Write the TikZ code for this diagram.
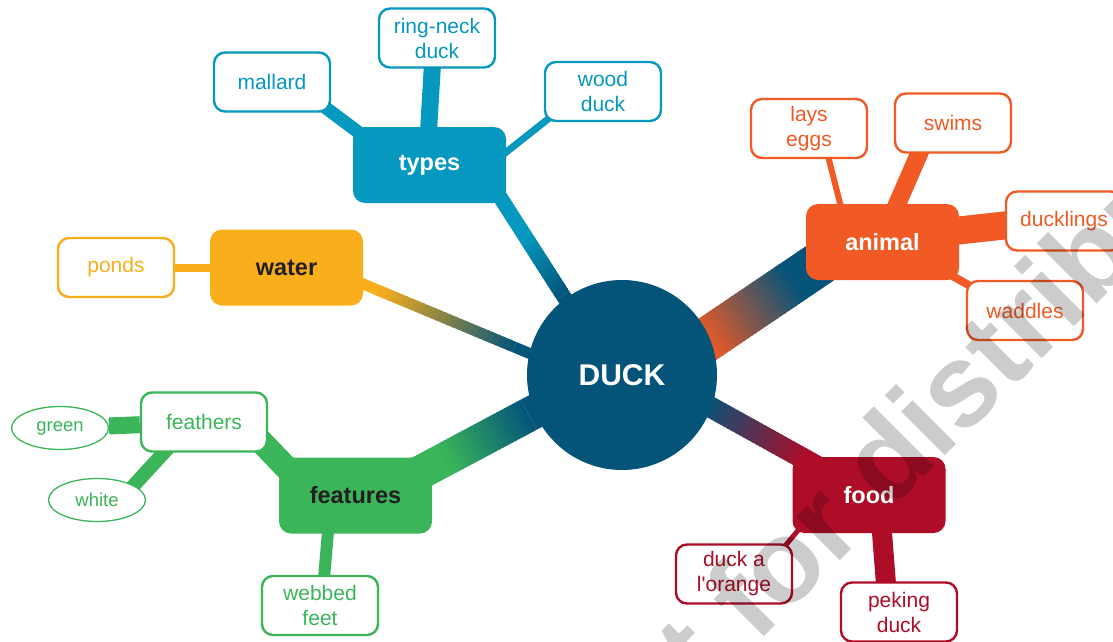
\documentclass[tikz,border=0pt]{standalone}
\usepackage{fontspec}
\setmainfont{Liberation Sans}
\usetikzlibrary{calc, shapes.geometric, backgrounds}

\definecolor{duckblue}{RGB}{4,84,122}
\definecolor{typecyan}{RGB}{6,152,190}
\definecolor{wateryellow}{RGB}{249,174,28}
\definecolor{featgreen}{RGB}{58,181,90}
\definecolor{animalorange}{RGB}{241,90,36}
\definecolor{foodred}{RGB}{174,13,40}
\definecolor{ink}{RGB}{35,31,32}

% thick limb from the hub that fades from one colour into another
% #1,#2 ends, #3 width, #4 colour at #1, #5 colour at #2, #6--#7 blend zone
\newcommand{\blendlink}[7]{%
	\draw[line width=#3, #4] (#1) -- ($(#1)!#6!(#2)$);
	\draw[line width=#3, #5] ($(#1)!#7!(#2)$) -- ($(#1)!0.92!(#2)$);
	\foreach \k in {0,...,24}{
		\pgfmathsetmacro\ta{#6+(#7-#6)*\k/25}
		\pgfmathsetmacro\tb{#6+(#7-#6)*(\k+1.4)/25}
		\pgfmathsetmacro\mix{100*(\k+0.5)/25}
		\draw[line width=#3, color=#5!\mix!#4] ($(#1)!\ta!(#2)$) -- ($(#1)!\tb!(#2)$);
	}
}

\begin{document}
\begin{tikzpicture}[x=1pt, y=-1pt,
		hub/.style={circle, fill=duckblue, text=white, minimum size=190pt, inner sep=0pt,
			font=\bfseries\fontsize{30}{30}\selectfont},
		topic/.style={rectangle, rounded corners=12pt, fill=#1, minimum width=153pt,
			minimum height=76pt, font=\bfseries\fontsize{23.5}{28}\selectfont},
		leaf/.style={rectangle, rounded corners=11pt, draw=#1, text=#1, fill=white,
			line width=2.4pt, minimum width=116pt, minimum height=59pt, inner sep=0pt,
			align=center, font=\fontsize{21}{25}\selectfont},
		tag/.style={ellipse, draw=#1, text=#1, fill=white, line width=1.3pt,
			minimum width=97pt, minimum height=43pt, inner sep=0pt,
			font=\fontsize{18.5}{22}\selectfont},
		twig/.style={line width=#1}]
	\useasboundingbox (0,0) rectangle (1113,642);

	%% Nodes
	\node (duck) at (622,375) [hub] {DUCK};

	% types
	\begin{scope}
		\node (types) at (429.5,165) [topic=typecyan, text=white] {types};
		\node (mallard) at (272,82) [leaf=typecyan] {mallard};
		\node (ringneck) at (437,38) [leaf=typecyan] {ring-neck\\duck};
		\node (woodduck) at (603,91.5) [leaf=typecyan] {wood\\duck};
	\end{scope}

	% water
	\begin{scope}
		\node (water) at (286.5,267.5) [topic=wateryellow, text=ink] {water};
		\node (ponds) at (116,267.5) [leaf=wateryellow] {ponds};
	\end{scope}

	% features
	\begin{scope}
		\node (features) at (355.5,495.5) [topic=featgreen, text=ink] {features};
		\node (feathers) at (204,422) [leaf=featgreen, minimum width=126pt] {feathers};
		\node (green) at (60,428) [tag=featgreen] {green};
		\node (white) at (97,500) [tag=featgreen] {white};
		\node (webbed) at (320,605.5) [leaf=featgreen] {webbed\\feet};
	\end{scope}

	% animal
	\begin{scope}
		\node (animal) at (882.5,242) [topic=animalorange, text=white] {animal};
		\node (layseggs) at (809,128.5) [leaf=animalorange] {lays\\eggs};
		\node (swims) at (953,123) [leaf=animalorange] {swims};
		\node (ducklings) at (1064,221) [leaf=animalorange] {ducklings};
		\node (waddles) at (1025,310.5) [leaf=animalorange] {waddles};
	\end{scope}

	% food
	\begin{scope}
		\node (food) at (869,495) [topic=foodred, text=white] {food};
		\node (orange) at (734,574) [leaf=foodred] {duck a\\l\textquotesingle orange};
		\node (peking) at (899,612) [leaf=foodred] {peking\\duck};
	\end{scope}

	%% Edges
	\begin{scope}[on background layer]
		\coordinate (types-root) at ([xshift=-8pt]duck.center);
		\coordinate (types-tip) at ([xshift=50pt]types.center);
		\coordinate (water-root) at ([yshift=-17pt]duck.center);
		\coordinate (water-tip) at ([yshift=15.5pt]water.center);
		\coordinate (features-root) at ([yshift=10pt]duck.center);
		\coordinate (features-tip) at ([yshift=-11.5pt]features.center);
		\coordinate (animal-root) at ([yshift=-22pt]duck.center);
		\coordinate (animal-tip) at ([yshift=21pt]animal.center);
		\coordinate (food-root) at ([yshift=17pt]duck.center);

		\blendlink{types-root}{types-tip}{15pt}{duckblue}{typecyan}{0.38}{0.66}
		\blendlink{water-root}{water-tip}{11pt}{duckblue}{wateryellow}{0.32}{0.72}
		\blendlink{features-root}{features-tip}{34pt}{duckblue}{featgreen}{0.35}{0.66}
		\blendlink{animal-root}{animal-tip}{44pt}{animalorange}{duckblue}{0.31}{0.66}
		\blendlink{food-root}{food}{21pt}{duckblue}{foodred}{0.33}{0.74}

		\draw[twig=13pt, typecyan] ($(mallard)+(42,17)$) -- ($(types)+(-59.5,-24)$);
		\draw[twig=17pt, typecyan] ($(ringneck)+(-4,17)$) -- ($(types)+(-1.5,-25)$);
		\draw[twig=7pt, typecyan] ($(types)+(65.5,-4)$) -- ($(woodduck)+(-41,16.5)$);

		\draw[twig=8pt, wateryellow] (ponds) -- (water);

		\draw[twig=24pt, featgreen] ($(feathers)+(46,8)$) -- ($(features)+(-55.5,-13.5)$);
		\draw[twig=17pt, featgreen] (green) -- (feathers);
		\draw[twig=14pt, featgreen] ($(white)+(28,-5)$) -- ($(feathers)+(-24,13)$);
		\draw[twig=12pt, featgreen] ($(features)+(-26.5,24.5)$) -- ($(webbed)+(3,-15.5)$);

		\draw[twig=6pt, animalorange] ($(layseggs)+(17,19.5)$) -- ($(animal)+(-39.5,-27)$);
		\draw[twig=18pt, animalorange] ($(animal)+(9.5,-26)$) -- ($(swims)+(-28,17)$);
		\draw[twig=28pt, animalorange] ($(animal)+(62.5,-10)$) -- ($(ducklings)+(-46,3)$);
		\draw[twig=8pt, animalorange] ($(animal)+(62.5,30)$) -- ($(waddles)+(-40,-16.5)$);

		\draw[twig=5pt, foodred] ($(food)+(-64,27)$) -- ($(orange)+(46,-22)$);
		\draw[twig=20pt, foodred] ($(food)+(12,25)$) -- ($(peking)+(-12,-15)$);
	\end{scope}

	% stamp across the sheet
	\node (stamp) at (974.5,426.5) [rotate=45, anchor=base, text=black, text opacity=0.2,
		font=\bfseries\fontsize{117}{117}\selectfont] {not for distribution};
\end{tikzpicture}
\end{document}
